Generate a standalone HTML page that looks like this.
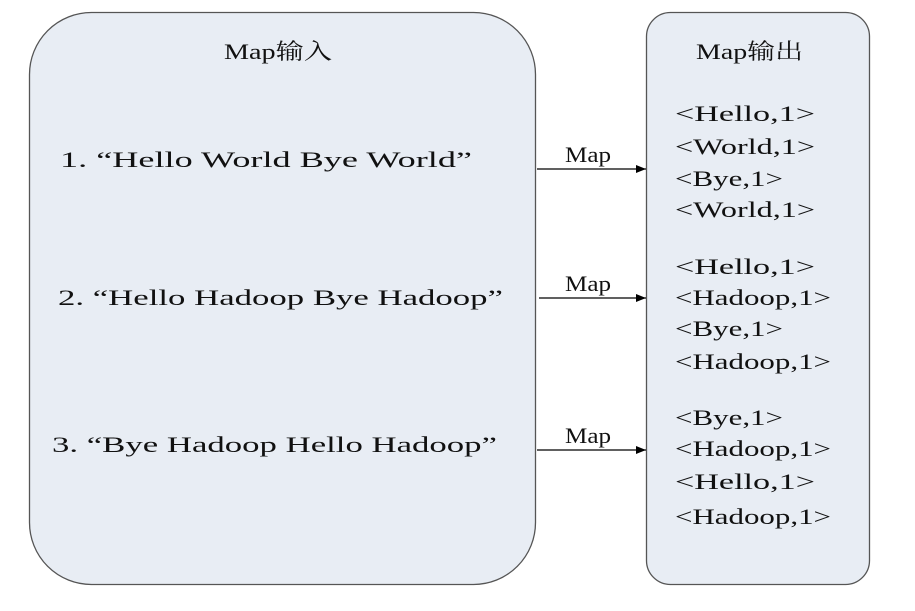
<!DOCTYPE html>
<html><head><meta charset="utf-8"><style>html,body{margin:0;padding:0;background:#fff}</style></head>
<body>
<svg width="915" height="606" xmlns="http://www.w3.org/2000/svg" font-family="Liberation Serif, 'Noto Serif CJK SC', serif" font-size="22" fill="#111">
<defs><marker id="a" markerWidth="10" markerHeight="8" refX="10" refY="4" orient="auto" markerUnits="userSpaceOnUse"><path d="M0,0 L10,4 L0,8 z" fill="#000"/></marker></defs>
<rect x="29.5" y="12.5" width="506" height="572" rx="62" ry="62" fill="#e8edf4" stroke="#555" stroke-width="1.3"/>
<rect x="646.5" y="12.5" width="223" height="572" rx="24" ry="24" fill="#e8edf4" stroke="#555" stroke-width="1.3"/>
<text x="224" y="59" textLength="108" lengthAdjust="spacingAndGlyphs">Map输入</text>
<text x="696" y="59" textLength="107" lengthAdjust="spacingAndGlyphs">Map输出</text>
<text x="60" y="167" textLength="412" lengthAdjust="spacingAndGlyphs">1. “Hello World Bye World”</text>
<text x="58" y="305" textLength="445" lengthAdjust="spacingAndGlyphs">2. “Hello Hadoop Bye Hadoop”</text>
<text x="52" y="452" textLength="445" lengthAdjust="spacingAndGlyphs">3. “Bye Hadoop Hello Hadoop”</text>
<g stroke="#000" stroke-width="1.2" marker-end="url(#a)">
<line x1="537" y1="169" x2="646" y2="169"/>
<line x1="539" y1="298" x2="646" y2="298"/>
<line x1="537" y1="450" x2="646" y2="450"/>
</g>
<text x="565" y="162" textLength="46" lengthAdjust="spacingAndGlyphs">Map</text>
<text x="565" y="291" textLength="46" lengthAdjust="spacingAndGlyphs">Map</text>
<text x="565" y="443" textLength="46" lengthAdjust="spacingAndGlyphs">Map</text>
<g>
<text x="675" y="121" textLength="140" lengthAdjust="spacingAndGlyphs">&lt;Hello,1&gt;</text>
<text x="675" y="154" textLength="140" lengthAdjust="spacingAndGlyphs">&lt;World,1&gt;</text>
<text x="675" y="186" textLength="108" lengthAdjust="spacingAndGlyphs">&lt;Bye,1&gt;</text>
<text x="675" y="217" textLength="140" lengthAdjust="spacingAndGlyphs">&lt;World,1&gt;</text>
<text x="675" y="274" textLength="140" lengthAdjust="spacingAndGlyphs">&lt;Hello,1&gt;</text>
<text x="675" y="305" textLength="156" lengthAdjust="spacingAndGlyphs">&lt;Hadoop,1&gt;</text>
<text x="675" y="336" textLength="108" lengthAdjust="spacingAndGlyphs">&lt;Bye,1&gt;</text>
<text x="675" y="369" textLength="156" lengthAdjust="spacingAndGlyphs">&lt;Hadoop,1&gt;</text>
<text x="675" y="425" textLength="108" lengthAdjust="spacingAndGlyphs">&lt;Bye,1&gt;</text>
<text x="675" y="456" textLength="156" lengthAdjust="spacingAndGlyphs">&lt;Hadoop,1&gt;</text>
<text x="675" y="489" textLength="140" lengthAdjust="spacingAndGlyphs">&lt;Hello,1&gt;</text>
<text x="675" y="524" textLength="156" lengthAdjust="spacingAndGlyphs">&lt;Hadoop,1&gt;</text>
</g>
</svg>
</body></html>
